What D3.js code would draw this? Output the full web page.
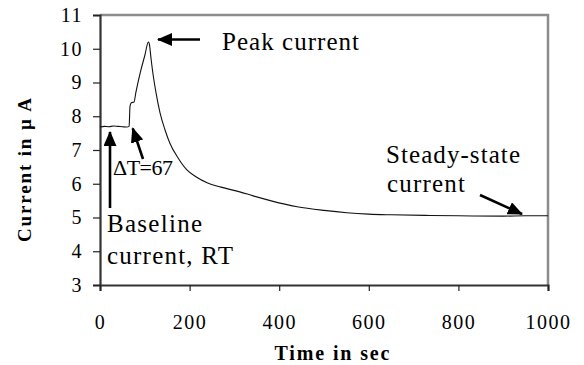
<!DOCTYPE html>
<html>
<head>
<meta charset="utf-8">
<script src="https://cdn.jsdelivr.net/npm/d3@7"></script>
<style>
  html, body { margin: 0; padding: 0; background: #fff; }
  svg { display: block; }
</style>
</head>
<body>
<svg id="chart" width="584" height="365" font-family="Liberation Serif"></svg>
<script>
// Current trace (time in s, current in µA)
const timeSec = [0, 10, 20, 30, 40, 50, 60, 65, 67, 70, 76, 80, 90, 100, 108, 110, 114, 118, 125, 134, 145, 156, 175, 194, 215, 239, 270, 312, 342, 380, 440, 500, 551, 600, 650, 737, 800, 900, 950, 1000]
const currentUA = [7.68, 7.7, 7.69, 7.71, 7.7, 7.69, 7.68, 7.7, 8.3, 8.4, 8.42, 8.7, 9.3, 9.8, 10.2, 10.15, 9.7, 9.28, 8.7, 8.1, 7.6, 7.2, 6.75, 6.41, 6.2, 6.03, 5.9, 5.76, 5.64, 5.5, 5.32, 5.21, 5.14, 5.1, 5.08, 5.06, 5.05, 5.04, 5.05, 5.05]

const xTicks = [0, 200, 400, 600, 800, 1000]
const yTicks = [3, 4, 5, 6, 7, 8, 9, 10, 11]

const serif = 'Liberation Serif'
const svg = d3.select('#chart')
const plotL = 100, plotR = 548, plotT = 15, plotB = 285

const x = d3.scaleLinear().domain([0, 1000]).range([plotL, plotR])
const y = d3.scaleLinear().domain([3, 11]).range([plotB, plotT])

// Arrow head
svg.append('defs').append('marker')
  .attr('id', 'head')
  .attr('markerUnits', 'userSpaceOnUse')
  .attr('viewBox', '0 0 15 13')
  .attr('refX', 14)
  .attr('refY', 6.5)
  .attr('markerWidth', 15)
  .attr('markerHeight', 13)
  .attr('orient', 'auto')
  .append('path')
  .attr('d', 'M0,0L15,6.5L0,13Z')
  .attr('fill', '#000')

// Frame: light top/right, dark left/bottom
svg.append('path')
  .attr('d', `M${plotL},${plotT}H${plotR}V${plotB}`)
  .attr('fill', 'none')
  .attr('stroke', '#8c8c8c')
  .attr('stroke-width', 2.5)

const yAxis = svg.append('g')
  .attr('transform', `translate(${plotL},0)`)
  .call(d3.axisLeft(y).tickValues(yTicks).tickSize(7).tickPadding(10).tickFormat(d3.format('d')))
yAxis.select('.domain').attr('stroke', '#333').attr('stroke-width', 2.2)
yAxis.selectAll('.tick line').attr('stroke', '#222').attr('stroke-width', 1.2)

const xAxis = svg.append('g')
  .attr('transform', `translate(0,${plotB})`)
  .call(d3.axisBottom(x).tickValues(xTicks).tickSize(6).tickPadding(24).tickFormat(d3.format('d')))
xAxis.select('.domain').attr('stroke', '#333').attr('stroke-width', 2.2)
xAxis.selectAll('.tick line').attr('stroke', '#222').attr('stroke-width', 1.2)

yAxis.attr('font-family', serif).attr('font-size', 20)
xAxis.attr('font-family', serif).attr('font-size', 20)
svg.selectAll('.tick text')
  .attr('fill', '#000')
  .attr('letter-spacing', 1.5)

// Curve
const pts = timeSec.map((t, i) => [t, currentUA[i]])
svg.append('path')
  .datum(pts)
  .attr('fill', 'none')
  .attr('stroke', '#111')
  .attr('stroke-width', 1.1)
  .attr('d', d3.line().x(d => x(d[0])).y(d => y(d[1])).curve(d3.curveMonotoneX))

// Axis titles
svg.append('text')
  .attr('x', 332).attr('y', 360)
  .attr('text-anchor', 'middle')
  .attr('font-weight', 'bold')
  .attr('font-size', 20)
  .attr('textLength', 115)
  .attr('lengthAdjust', 'spacing')
  .text('Time in sec')

svg.append('text')
  .attr('transform', 'translate(31,170) rotate(-90)')
  .attr('text-anchor', 'middle')
  .attr('font-weight', 'bold')
  .attr('font-size', 19)
  .attr('textLength', 144)
  .attr('lengthAdjust', 'spacing')
  .text('Current  in  µ A')

// Annotations
const arrows = [
  [200, 39.5, 158, 39.5],
  [143, 159, 132.7, 128.3],
  [110, 208, 110, 132],
  [480, 195, 522, 214]
]
svg.selectAll('line.arrow')
  .data(arrows)
  .join('line')
  .attr('class', 'arrow')
  .attr('x1', d => d[0]).attr('y1', d => d[1])
  .attr('x2', d => d[2]).attr('y2', d => d[3])
  .attr('stroke', '#000')
  .attr('stroke-width', 2.6)
  .attr('marker-end', 'url(#head)')

const notes = [
  { t: 'Peak current', x: 222, y: 50, len: 137, size: 25 },
  { t: 'ΔT=67', x: 113, y: 175, len: 60, size: 22 },
  { t: 'Baseline', x: 107, y: 232, len: 95, size: 25 },
  { t: 'current, RT', x: 107, y: 264, len: 126, size: 25 },
  { t: 'Steady-state', x: 386, y: 163, len: 134, size: 25 },
  { t: 'current', x: 387, y: 192, len: 78, size: 25 }
]
svg.selectAll('text.note')
  .data(notes)
  .join('text')
  .attr('class', 'note')
  .attr('x', d => d.x).attr('y', d => d.y)
  .attr('font-size', d => d.size)
  .attr('textLength', d => d.len)
  .attr('lengthAdjust', 'spacing')
  .text(d => d.t)
</script>
</body>
</html>
